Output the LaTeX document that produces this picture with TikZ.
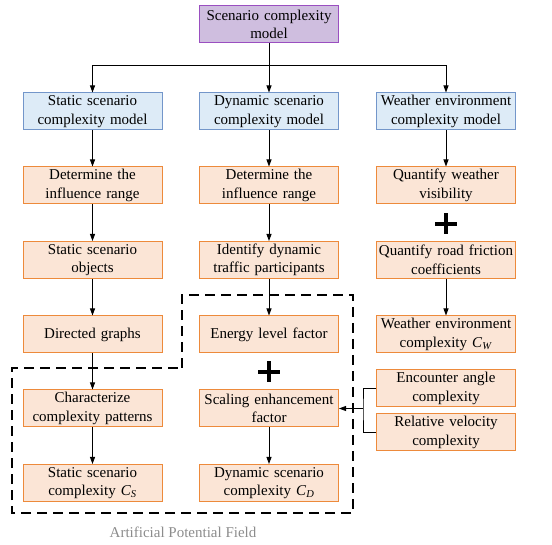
\documentclass[tikz,border=0pt]{standalone}
\usepackage{fontspec}
\setmainfont{Liberation Serif}
\usetikzlibrary{arrows.meta}
\definecolor{purpfill}{HTML}{CFBEDF}
\definecolor{purpdraw}{HTML}{9A4FC0}
\definecolor{bluefill}{HTML}{DDEBF7}
\definecolor{bluedraw}{HTML}{7396CA}
\definecolor{orfill}{HTML}{FBE5D6}
\definecolor{ordraw}{HTML}{ED8A3B}
\begin{document}
\begin{tikzpicture}[x=1pt,y=-1pt,
  box/.style={draw, line width=1pt, minimum width=139pt, minimum height=37pt, text width=137pt, align=center, inner sep=1pt, font=\fontsize{15}{18.5}\selectfont},
  topbox/.style={box, fill=purpfill, draw=purpdraw, minimum width=138pt},
  bluebox/.style={box, fill=bluefill, draw=bluedraw},
  orbox/.style={box, fill=orfill, draw=ordraw},
  arr/.style={-{Triangle[length=7pt,width=5pt]}, line width=0.9pt},
  conn/.style={line width=0.9pt},
  plus/.style={line width=3.8pt},
  dashbox/.style={line width=1.1pt, dash pattern=on 10pt off 6pt}
]
\useasboundingbox (0,0) rectangle (552,545);
\node[topbox] (top) at (269,24.5) {Scenario complexity\\model};
\node[bluebox] (stat) at (92.5,111.5) {Static scenario\\complexity model};
\node[bluebox] (dyn) at (269,111.5) {Dynamic scenario\\complexity model};
\node[bluebox] (wea) at (446,111.5) {Weather environment\\complexity model};
\node[orbox] (s1) at (92.5,185.5) {Determine the\\influence range};
\node[orbox] (s2) at (92.5,260) {Static scenario\\objects};
\node[orbox] (s3) at (92.5,334.5) {Directed graphs};
\node[orbox] (s4) at (92.5,408.5) {Characterize\\complexity patterns};
\node[orbox] (s5) at (92.5,483) {Static scenario\\complexity \textit{C}\textsubscript{\textit{S}}};
\node[orbox] (d1) at (269,185.5) {Determine the\\influence range};
\node[orbox] (d2) at (269,260) {Identify dynamic\\traffic participants};
\node[orbox] (d3) at (269,334.5) {Energy level factor};
\node[orbox] (d4) at (269,408.5) {Scaling enhancement\\factor};
\node[orbox] (d5) at (269,483) {Dynamic scenario\\complexity \textit{C}\textsubscript{\textit{D}}};
\node[orbox] (w1) at (446,185.5) {Quantify weather\\visibility};
\node[orbox] (w2) at (446,260) {Quantify road friction\\coefficients};
\node[orbox] (w3) at (446,334.5) {Weather environment\\complexity \textit{C}\textsubscript{\textit{W}}};
\node[orbox] (enc) at (446,388.5) {Encounter angle\\complexity};
\node[orbox] (rel) at (446,432.5) {Relative velocity\\complexity};
\node[text=gray!90, font=\fontsize{15}{18}\selectfont] (apf) at (183,532) {Artificial Potential Field};
% connectors
\coordinate (bus) at (269,65);
\draw[arr] (top) -- (dyn);
\draw[arr] (bus) -| (stat);
\draw[arr] (bus) -| (wea);
\draw[arr] (stat) -- (s1);
\draw[arr] (s1) -- (s2);
\draw[arr] (s2) -- (s3);
\draw[arr] (s3) -- (s4);
\draw[arr] (s4) -- (s5);
\draw[arr] (dyn) -- (d1);
\draw[arr] (d1) -- (d2);
\draw[arr] (d2) -- (d3);
\draw[arr] (d4) -- (d5);
\draw[arr] (wea) -- (w1);
\draw[arr] (w2) -- (w3);
\coordinate (j) at (363,408.5);
\draw[conn] (enc.west) -| (j) |- (rel.west);
\draw[arr] (j) -- (d4.east);
% plus signs
\draw[plus] (435,224) -- (457,224) (446,213.5) -- (446,234.5);
\draw[plus] (258,372) -- (280,372) (269,361.5) -- (269,382.5);
% dashed region
\draw[dashbox] (182,368) -- (182,295) -- (353,295) -- (353,513) -- (12,513) -- (12,368) -- cycle;
\end{tikzpicture}
\end{document}
